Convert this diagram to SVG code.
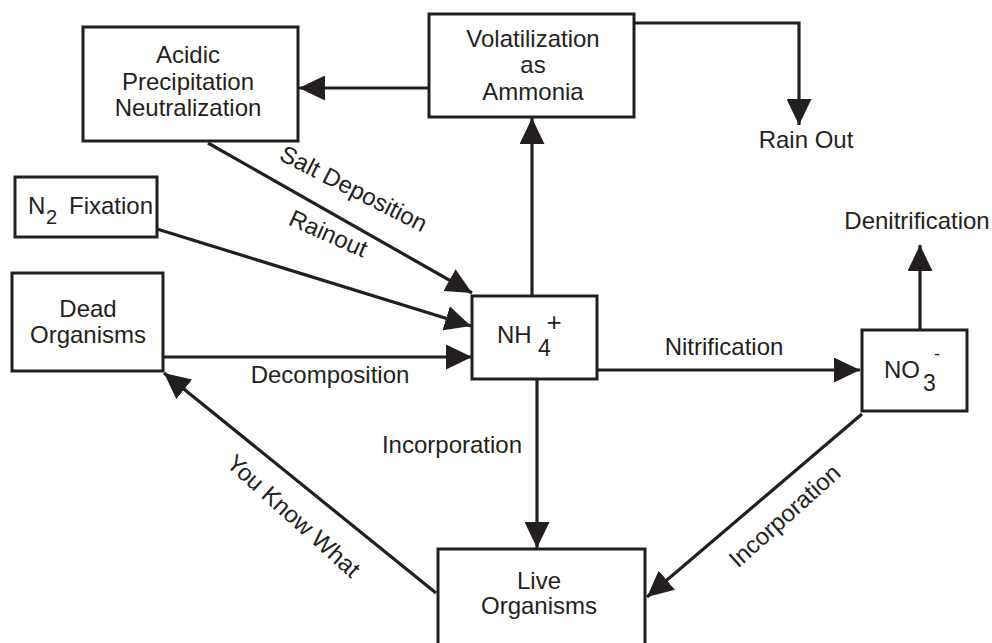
<svg xmlns="http://www.w3.org/2000/svg" width="992" height="643" viewBox="0 0 992 643">
<defs>
<style>
.box{fill:#fff;stroke:#231f20;stroke-width:3}
.ln{fill:none;stroke:#231f20;stroke-width:3.2;marker-end:url(#ah)}
text{font-family:"Liberation Sans",Arial,sans-serif;font-size:24px;fill:#231f20}
.c{text-anchor:middle}
.sub{font-size:23px}
</style>
<marker id="ah" markerUnits="userSpaceOnUse" markerWidth="27" markerHeight="25" refX="26" refY="12.5" orient="auto" viewBox="0 0 27 25">
<path d="M0,0 L26,12.5 L0,25 z" fill="#231f20"/>
</marker>
</defs>
<rect width="992" height="643" fill="#fff"/>
<g id="connectors">
<line class="ln" x1="429" y1="88" x2="299" y2="88"/>
<polyline class="ln" points="634,23 799,23 799,125"/>
<line class="ln" x1="532" y1="296" x2="532" y2="118"/>
<line class="ln" x1="208" y1="143" x2="472" y2="293"/>
<line class="ln" x1="157" y1="229" x2="471" y2="326"/>
<line class="ln" x1="163" y1="357" x2="472" y2="357"/>
<line class="ln" x1="597" y1="370" x2="860" y2="370"/>
<line class="ln" x1="920" y1="330" x2="920" y2="245"/>
<line class="ln" x1="537" y1="379" x2="537" y2="548"/>
<line class="ln" x1="436" y1="593" x2="164" y2="373"/>
<line class="ln" x1="862" y1="414" x2="647" y2="597"/>
<text class="c" transform="translate(350,196) rotate(27)">Salt Deposition</text>
<text class="c" transform="translate(325,241) rotate(24)">Rainout</text>
<text class="c" x="330" y="383">Decomposition</text>
<text class="c" x="724" y="355">Nitrification</text>
<text class="c" x="452" y="453">Incorporation</text>
<text class="c" transform="translate(288,522) rotate(42)">You Know What</text>
<text class="c" transform="translate(790,522) rotate(-42)">Incorporation</text>
<text class="c" x="806" y="148">Rain Out</text>
<text class="c" x="917" y="229">Denitrification</text>
</g>
<g id="acidic">
<rect class="box" x="83" y="27" width="215" height="114"/>
<text class="c" x="188" y="63">Acidic</text>
<text class="c" x="188" y="90">Precipitation</text>
<text class="c" x="188" y="116">Neutralization</text>
</g>
<g id="volatilization">
<rect class="box" x="429" y="14" width="205" height="103"/>
<text class="c" x="533" y="47">Volatilization</text>
<text class="c" x="533" y="73">as</text>
<text class="c" x="533" y="100">Ammonia</text>
</g>
<g id="n2fixation">
<rect class="box" x="15" y="177" width="142" height="60"/>
<text x="28" y="214">N</text>
<text class="sub" style="font-size:20px" x="46" y="224">2</text>
<text x="69" y="214">Fixation</text>
</g>
<g id="dead">
<rect class="box" x="12" y="273" width="151" height="98"/>
<text class="c" x="88" y="317">Dead</text>
<text class="c" x="88" y="343">Organisms</text>
</g>
<g id="nh4">
<rect class="box" x="472" y="296" width="125" height="83"/>
<text x="497" y="343">NH</text>
<text class="sub" x="538" y="356">4</text>
<text class="c" style="font-size:26px" x="554" y="331">+</text>
</g>
<g id="no3">
<rect class="box" x="862" y="330" width="105" height="81"/>
<text x="884" y="378">NO</text>
<text class="sub" x="923" y="391">3</text>
<text class="c" style="font-size:18px" x="937" y="360">-</text>
</g>
<g id="live">
<rect class="box" x="438" y="549" width="207" height="120"/>
<text class="c" x="539" y="589">Live</text>
<text class="c" x="539" y="614">Organisms</text>
</g>
</svg>
